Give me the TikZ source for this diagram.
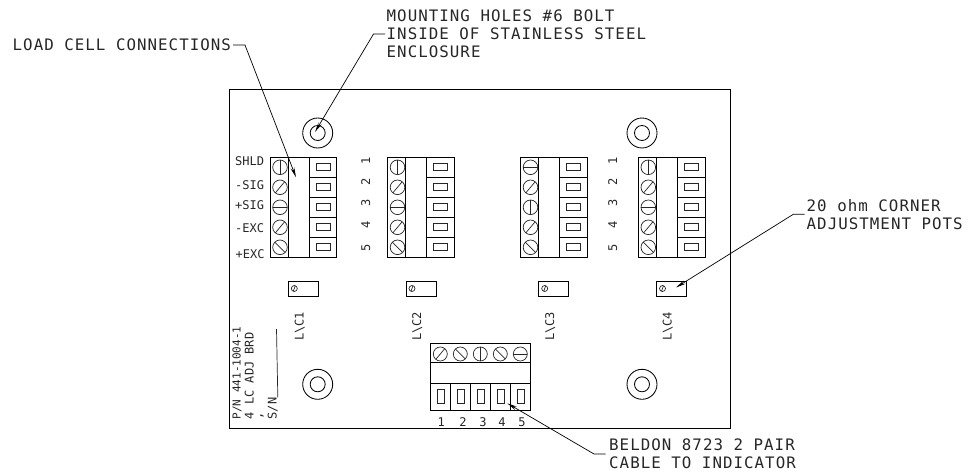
\documentclass[tikz,border=0pt]{standalone}
\usepackage{fontspec}
\newfontfamily\cadfont{DejaVu Sans Mono}
\newfontfamily\cadbig[LetterSpace=6.5]{DejaVu Sans Mono}
\usetikzlibrary{arrows.meta}
\tikzset{
  wire/.style={line width=0.85pt,black},
  thin part/.style={line width=0.7pt,black!85},
  leader/.style={line width=0.7pt,black,-{Stealth[length=10pt,width=3.8pt]}},
  bigtext/.style={inner sep=0pt,anchor=base west,text=black!85,font=\cadbig\fontsize{15.8}{15.8}\selectfont},
  smalltext/.style={inner sep=0pt,anchor=base west,text=black!85,font=\cadfont\fontsize{12}{12}\selectfont},
  rottext/.style={smalltext,rotate=90},
  rotnum/.style={inner sep=0pt,anchor=base,rotate=90,text=black!85,font=\cadfont\fontsize{12}{12}\selectfont},
  botnum/.style={inner sep=0pt,text=black!85,font=\cadfont\fontsize{12}{12}\selectfont},
}
\newcommand{\myscrew}[4]{%
  \draw[thin part] (#1,#2) circle (#3pt);
  \draw[thin part] (#1,#2)+(#4:#3pt) -- +(#4+180:#3pt);}
% x of block; angles of row 1 and row 3
\newcommand{\myblock}[3]{%
  \draw[wire] (#1,157.3) rectangle ++(66.7,100);
  \draw[wire] (#1+18.3,157.3) -- ++(0,100);
  \draw[wire] (#1+39.3,157.3) -- ++(0,100);
  \foreach \r in {1,2,3,4}{\draw[wire] (#1+39.3,157.3+20*\r) -- ++(27.4,0);}
  \foreach \r in {0,1,2,3,4}{\draw[thin part] (#1+46,163.7+20*\r) rectangle ++(14,7);}
  \myscrew{#1+10}{167.3}{7.3}{#2}
  \myscrew{#1+10}{187.3}{7.3}{50}
  \myscrew{#1+10}{207.3}{7.3}{#3}
  \myscrew{#1+10}{227.3}{7.3}{50}
  \myscrew{#1+10}{247.3}{7.3}{-45}}
\newcommand{\mypot}[1]{%
  \draw[wire] (#1,281) rectangle ++(30,15);
  \myscrew{#1+6}{288.5}{3}{70}}
\newcommand{\myhole}[2]{%
  \draw[wire] (#1,#2) circle (15pt);
  \draw[wire] (#1,#2) circle (7.5pt);}
\begin{document}
\begin{tikzpicture}[x=1pt,y=-1pt]
\useasboundingbox (0,0) rectangle (967,473);
% board
\draw[wire] (229,89) rectangle (730.5,428);
% mounting holes
\myhole{317.7}{133}
\myhole{642}{133}
\myhole{317.7}{384.3}
\myhole{642}{384.3}
% terminal blocks
\myblock{270}{90}{0}
\myblock{387.5}{90}{0}
\myblock{520.5}{0}{90}
\myblock{638.3}{90}{0}
% pots
\mypot{288.3}
\mypot{406}
\mypot{538.7}
\mypot{656.5}
% bottom block
\draw[wire] (430.3,343.3) rectangle (530,410);
\draw[wire] (430.3,362) -- (530,362);
\draw[wire] (430.3,383.3) -- (530,383.3);
\foreach \x in {450.3,470.3,490.3,510.3}{\draw[wire] (\x,383.3) -- (\x,410);}
\foreach \x in {437,457,477,497,517}{\draw[thin part] (\x,389.3) rectangle ++(7,14);}
\myscrew{440.3}{354}{7}{50}
\myscrew{460.3}{354}{7}{-45}
\myscrew{480.3}{354}{7}{90}
\myscrew{500.3}{354}{7}{-45}
\myscrew{520.3}{354}{7}{0}
% terminal labels
\node[smalltext] (shld) at (235,166) {SHLD};
\node[smalltext] (nsig) at (235,189.5) {-SIG};
\node[smalltext] (psig) at (235,209.8) {+SIG};
\node[smalltext] (nexc) at (235,232.5) {-EXC};
\node[smalltext] (pexc) at (235.5,259) {+EXC};
\foreach \n/\y in {1/161,2/181.5,3/203,4/225,5/248}{
  \node[rotnum] (la\n) at (370,\y) {\n};
  \node[rotnum] (lb\n) at (617,\y) {\n};}
\foreach \n/\x in {1/441.3,2/463,3/483,4/502,5/522}{
  \node[botnum] (bn\n) at (\x,422.3) {\n};}
\node[rottext] (lc1) at (303.5,341) {L\textbackslash C1};
\node[rottext] (lc2) at (421,341) {L\textbackslash C2};
\node[rottext] (lc3) at (554,341) {L\textbackslash C3};
\node[rottext] (lc4) at (671.5,341) {L\textbackslash C4};
\node[rottext,font=\cadfont\fontsize{11}{11}\selectfont] (pn) at (240.7,419.5) {P/N 441-1004-1};
\node[rottext] (brd) at (253.5,419.5) {4 LC ADJ BRD};
\node[rottext] (cma) at (262,419.5) {,};
\node[rottext] (sn) at (276.5,419.5) {S/N};
\coordinate (snend) at (276.5,329);
\draw[thin part] (sn.south east) -- (snend);
% callouts
\node[bigtext] (load) at (12.5,50.7) {LOAD CELL CONNECTIONS};
\node[bigtext] (mount1) at (386.5,22) {MOUNTING HOLES \#6 BOLT};
\node[bigtext] (mount2) at (386.5,40) {INSIDE OF STAINLESS STEEL};
\node[bigtext] (mount3) at (386.5,58) {ENCLOSURE};
\node[bigtext] (pot1) at (806.5,211.7) {20 ohm CORNER};
\node[bigtext] (pot2) at (806.5,230) {ADJUSTMENT POTS};
\node[bigtext] (cab1) at (609,450.7) {BELDON 8723 2 PAIR};
\node[bigtext] (cab2) at (609,468.7) {CABLE TO INDICATOR};
% leaders
\coordinate (loadA) at (233,45);
\coordinate (loadB) at (245,45);
\coordinate (loadT) at (296,177.3);
\draw[leader] (loadA) -- (loadB) -- (loadT);
\coordinate (mountA) at (385,34);
\coordinate (mountB) at (373.5,34);
\coordinate (mountT) at (315,132);
\draw[leader] (mountA) -- (mountB) -- (mountT);
\coordinate (potA) at (804.5,214.3);
\coordinate (potB) at (793.3,214.3);
\coordinate (potT) at (676,287.5);
\draw[leader] (potA) -- (potB) -- (potT);
\coordinate (cabA) at (605.5,454);
\coordinate (cabB) at (594,454);
\coordinate (cabT) at (507.3,403.3);
\draw[leader] (cabA) -- (cabB) -- (cabT);
\end{tikzpicture}
\end{document}
